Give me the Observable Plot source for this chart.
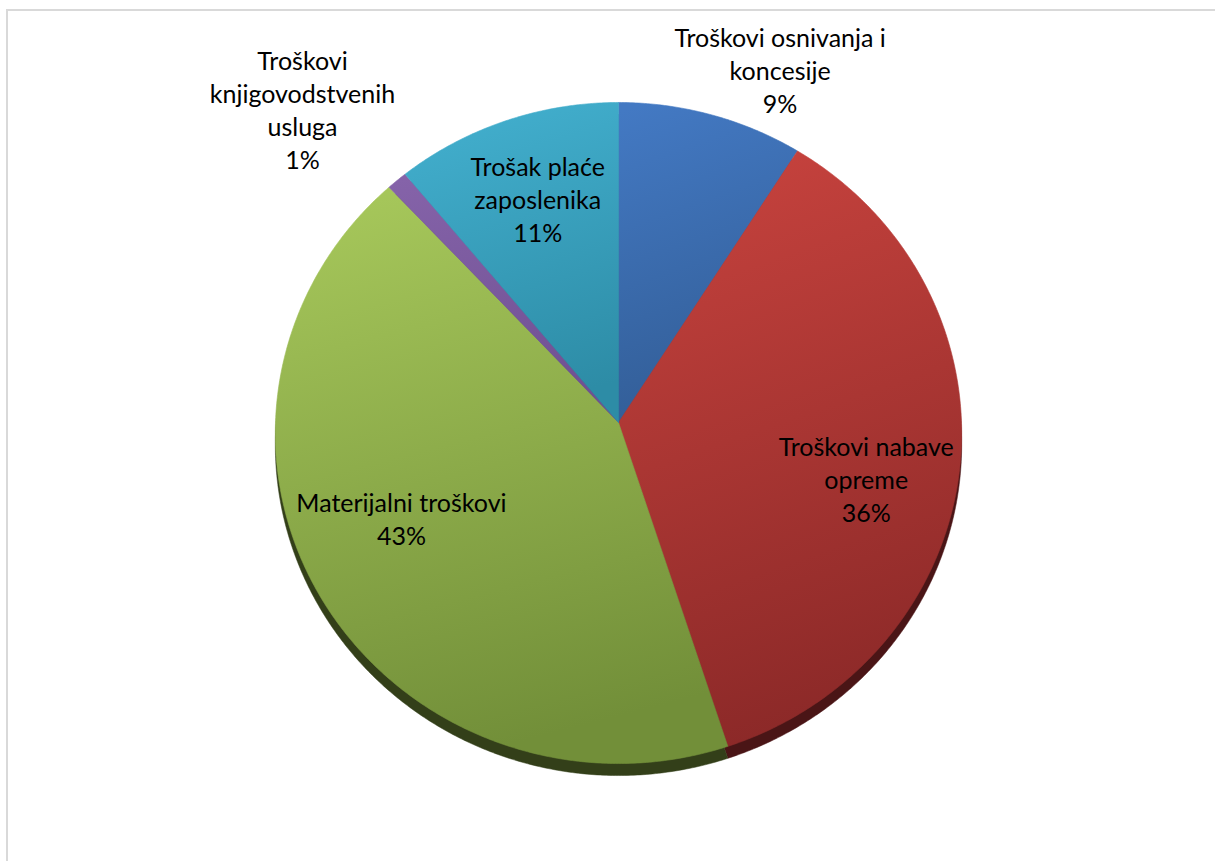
<!DOCTYPE html>
<html>
<head>
<meta charset="utf-8">
<script src="https://cdn.jsdelivr.net/npm/d3@7"></script>
<script src="https://cdn.jsdelivr.net/npm/@observablehq/plot@0.6"></script>
<style>
  html, body { margin: 0; padding: 0; background: #fff; overflow: hidden; }
  #wrap { position: relative; width: 1215px; height: 861px; }
  #frame { position: absolute; left: 6px; top: 9px; width: 1240px; height: 900px;
           border: 2px solid #d9d9d9; box-sizing: border-box; pointer-events: none; }
  #chart { position: absolute; left: 0; top: 0; }
</style>
</head>
<body>
<div id="wrap"><div id="chart"></div><div id="frame"></div></div>
<script>
// ---- data ----
const categories = ["Troškovi osnivanja i koncesije", "Troškovi nabave opreme", "Materijalni troškovi", "Troškovi knjigovodstvenih usluga", "Trošak plaće zaposlenika"];
const values = [9, 36, 43, 1, 11];
const labelText = ["Troškovi osnivanja i\nkoncesije", "Troškovi nabave\nopreme", "Materijalni troškovi", "Troškovi\nknjigovodstvenih\nusluga", "Trošak plaće\nzaposlenika"];

// ---- styles ----
const topColors = ["#4379c3", "#c8433e", "#a7c85b", "#8563a9", "#43b0cf"];
const bottomColors = ["#325d96", "#8c2928", "#728f39", "#6f5092", "#2d8ca6"];
const sideColors = ["#1e3758", "#4a1516", "#333f19", "#3b2a50", "#1a5061"];
// label placement: radial factor + pixel nudge
const labelPlace = [
  {f: 1.12, dx: 58, dy: -10},
  {f: 0.72, dx: 2, dy: 26},
  {f: 0.72, dx: -2, dy: -27},
  {f: 1.30, dx: -30, dy: -1},
  {f: 0.71, dx: 0, dy: -8}
];

const k = 0.0318;        // perspective
const thick = 12 / 330.2; // 3D side thickness in y units
function proj(theta, f) {
  const d = 1 + k * f * Math.cos(theta);
  return [f * Math.sin(theta) / d, -f * Math.cos(theta) / d];
}

const pie = d3.pie().sort(null).value(d => d.value).startAngle(0).endAngle(2 * Math.PI);
const arcs = pie(categories.map((c, i) => ({name: c, value: values[i], i})));

const facePts = [];
for (const a of arcs) {
  const i = a.data.i;
  facePts.push({i, X: 0, Y: 0});
  const n = Math.max(4, Math.ceil((a.endAngle - a.startAngle) / (Math.PI / 360)));
  for (let s = 0; s <= n; s++) {
    const t = a.startAngle + (a.endAngle - a.startAngle) * s / n;
    const [X, Y] = proj(t, 1);
    facePts.push({i, X, Y});
  }
  facePts.push({i, X: 0, Y: 0});
}

const total = d3.sum(values);
const labels = arcs.map(a => {
  const i = a.data.i;
  const mid = (a.startAngle + a.endAngle) / 2;
  const [X, Y] = proj(mid, labelPlace[i].f);
  return {
    X: X + labelPlace[i].dx / 343,
    Y: Y + labelPlace[i].dy / 330.2,
    text: labelText[i] + "\n" + Math.round(values[i] / total * 100) + "%"
  };
});

const cx = 618, cy = 422, rx = 343, ry = 330.2;

const plot = Plot.plot({
  width: 1215,
  height: 861,
  margin: 0,
  x: {domain: [-1, 1], range: [cx - rx, cx + rx], axis: null},
  y: {domain: [-1, 1], range: [cy - ry, cy + ry], axis: null},
  style: {background: "transparent", overflow: "visible"},
  marks: [
    // side walls (shifted faces)
    Plot.line(facePts, {x: "X", y: d => d.Y + thick, z: "i", fill: d => sideColors[d.i], stroke: d => sideColors[d.i], strokeWidth: 0.5, curve: "linear"}),
    // top faces
    Plot.line(facePts, {x: "X", y: "Y", z: "i", fill: d => `url(#grad${d.i})`, stroke: d => `url(#grad${d.i})`, strokeWidth: 0.6, curve: "linear"}),
    Plot.text(labels, {x: "X", y: "Y", text: "text", fontSize: 25, lineHeight: 1.32, fill: "#000",
      fontFamily: "Lato, 'Liberation Sans', sans-serif", textAnchor: "middle"})
  ]
});

// gradient definitions
const svg = d3.select(plot);
const defs = svg.insert("defs", ":first-child");
topColors.forEach((c, i) => {
  const g = defs.append("linearGradient").attr("id", `grad${i}`)
    .attr("x1", 0.15).attr("y1", 0).attr("x2", 0.35).attr("y2", 1);
  g.append("stop").attr("offset", "0%").attr("stop-color", c);
  g.append("stop").attr("offset", "100%").attr("stop-color", bottomColors[i]);
});

document.getElementById("chart").appendChild(plot);
</script>
</body>
</html>
